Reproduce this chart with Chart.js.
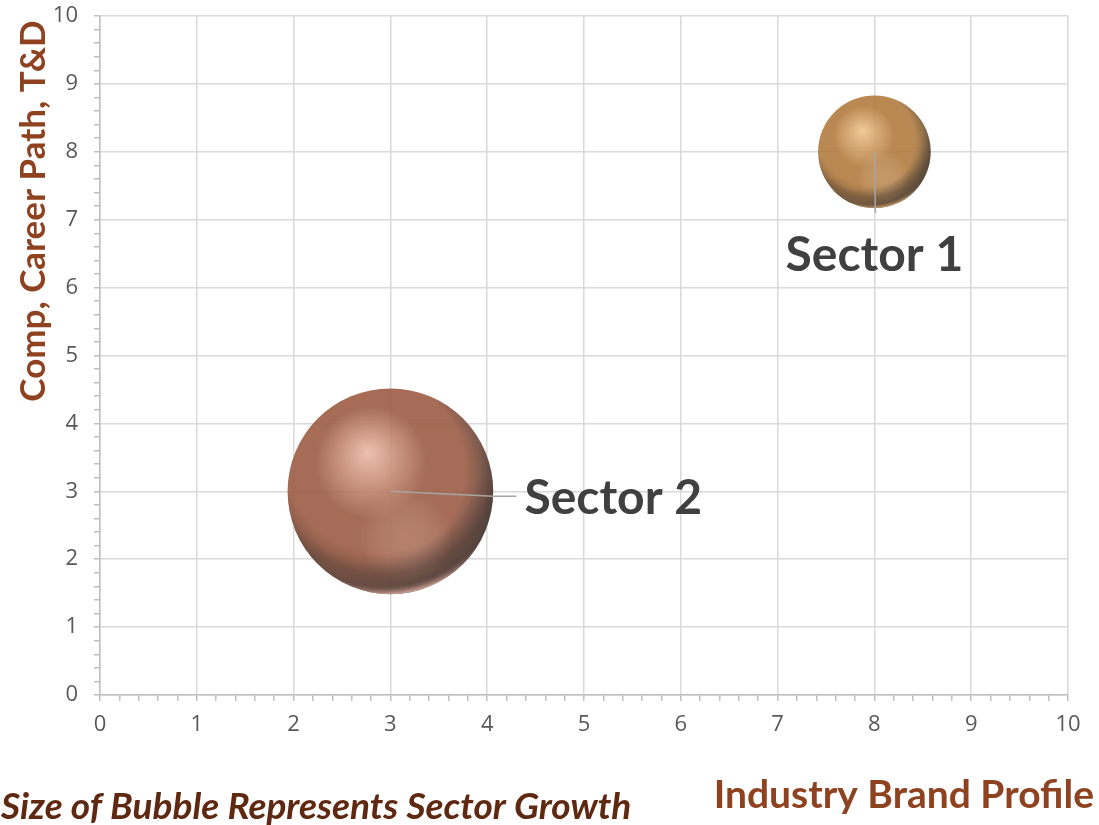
<!DOCTYPE html>
<html>
<head>
<meta charset="utf-8">
<script src="https://cdn.jsdelivr.net/npm/chart.js@4.4.1/dist/chart.umd.min.js"></script>
<style>
  html, body { margin: 0; padding: 0; background: #fff; }
  #wrap { position: relative; width: 1099px; height: 825px; }
</style>
</head>
<body>
<div id="wrap"><canvas id="bubbleChart" width="1099" height="825"></canvas></div>
<script>
const sectors = ["Sector 1", "Sector 2"];
const brandProfile = [8, 3];     // x
const compCareer = [8, 3];       // y
const sectorGrowth = [3, 10];    // bubble size (area)
const axisTicks = [0, 1, 2, 3, 4, 5, 6, 7, 8, 9, 10];

const yTitle = "Comp, Career Path, T&D";
const xTitle = "Industry Brand Profile";
const footNote = "Size of Bubble Represents Sector Growth";

// sphere shading per bubble: highlight, body, shadow, bottom rim
const shades = [
  { hi: "rgba(240,196,140,0.9)", mid: "rgba(178,124,64,0.9)", dark: "rgba(84,70,52,0.92)", rim: "rgba(205,160,112,0.85)", glow: "rgba(225,190,150,0.28)" },
  { hi: "rgba(236,186,166,0.9)", mid: "rgba(156,92,68,0.9)", dark: "rgba(76,60,55,0.92)", rim: "rgba(210,162,150,0.85)", glow: "rgba(220,175,160,0.28)" }
];

const maxGrowth = Math.max(...sectorGrowth);

function bubbleRadius(ctx) {
  const chart = ctx.chart;
  const area = chart.chartArea;
  const side = area ? Math.min(area.right - area.left, area.bottom - area.top) : chart.height * 0.82;
  return side * 0.152 * Math.sqrt(sectorGrowth[ctx.dataIndex] / maxGrowth);
}

function sphereFill(ctx) {
  const chart = ctx.chart;
  const i = ctx.dataIndex;
  if (!chart.chartArea || ctx.type !== "data") return shades[i || 0].mid;
  const cx = chart.scales.x.getPixelForValue(brandProfile[i]);
  const cy = chart.scales.y.getPixelForValue(compCareer[i]);
  const r = bubbleRadius(ctx);
  const s = shades[i];
  const g = chart.ctx.createRadialGradient(cx - r * 0.22, cy - r * 0.38, 0, cx - r * 0.15, cy - r * 0.15, r * 1.2);
  g.addColorStop(0, s.hi);
  g.addColorStop(0.45, s.mid);
  g.addColorStop(0.74, s.mid);
  g.addColorStop(1, s.dark);
  return g;
}

const isMajor = v => Math.abs(v - Math.round(v)) < 1e-6;

function minorTicks(scale) {
  const t = [];
  for (let i = 0; i <= (axisTicks.length - 1) * 5; i++) t.push({ value: i / 5 });
  scale.ticks = t;
}

// lower reflection, dark band and bright bottom rim on each sphere
const sphereGloss = {
  id: "sphereGloss",
  afterDatasetsDraw(chart) {
    const c = chart.ctx;
    chart.getDatasetMeta(0).data.forEach((el, i) => {
      const r = el.options.radius;
      const s = shades[i];
      c.save();
      c.beginPath();
      c.arc(el.x, el.y, r, 0, Math.PI * 2);
      c.clip();
      let gx = el.x + r * 0.15, gy = el.y + r * 0.45;
      let g = c.createRadialGradient(gx, gy, 0, gx, gy, r * 0.45);
      g.addColorStop(0, s.glow);
      g.addColorStop(1, "rgba(255,255,255,0)");
      c.fillStyle = g;
      c.fillRect(el.x - r, el.y - r, r * 2, r * 2);
      gx = el.x - r * 0.08; gy = el.y - r * 0.35;
      g = c.createRadialGradient(gx, gy, r * 0.95, gx, gy, r * 1.36);
      g.addColorStop(0, "rgba(50,35,30,0)");
      g.addColorStop(0.5, "rgba(50,35,30,0.28)");
      g.addColorStop(0.75, "rgba(50,35,30,0.22)");
      g.addColorStop(0.97, s.rim);
      g.addColorStop(1, s.rim);
      c.fillStyle = g;
      c.fillRect(el.x - r, el.y - r, r * 2, r * 2);
      c.restore();
    });
  }
};

// leader lines, data labels and the free-standing titles
const annotations = {
  id: "annotations",
  afterDraw(chart) {
    const c = chart.ctx;
    const pts = chart.getDatasetMeta(0).data;
    c.save();
    c.strokeStyle = "#a6a6a6";
    c.lineWidth = 1.5;
    c.fillStyle = "#404040";
    c.font = "bold 48px Lato";
    c.textBaseline = "alphabetic";

    // Sector 1: label below the bubble
    let p = pts[0];
    c.beginPath();
    c.moveTo(p.x, p.y);
    c.lineTo(p.x + 1, p.y + 61);
    c.stroke();
    c.textAlign = "center";
    c.fillText(sectors[0], p.x, p.y + 119);

    // Sector 2: label to the right
    p = pts[1];
    c.beginPath();
    c.moveTo(p.x, p.y);
    c.lineTo(p.x + 102, p.y + 5);
    c.lineTo(p.x + 126, p.y + 5);
    c.stroke();
    c.textAlign = "left";
    c.fillText(sectors[1], p.x + 134, p.y + 23);

    // axis titles
    c.fillStyle = "#8e4220";
    c.font = "bold 35px Lato";
    c.textBaseline = "middle";
    c.save();
    c.translate(34, 211);
    c.rotate(-Math.PI / 2);
    c.textAlign = "center";
    c.fillText(yTitle, 0, 0);
    c.restore();

    c.textAlign = "right";
    c.textBaseline = "alphabetic";
    c.font = "bold 39px Lato";
    c.fillText(xTitle, 1094, 808);

    c.fillStyle = "#5e2811";
    c.textAlign = "left";
    c.font = "italic bold 37px Lato";
    c.fillText(footNote, 1, 819);
    c.restore();
  }
};

const gridCommon = {
  color: ctx => (ctx.tick && isMajor(ctx.tick.value) ? "#d9d9d9" : "rgba(0,0,0,0)"),
  lineWidth: 1.5,
  tickColor: "#bfbfbf",
  tickLength: 6
};

const tickFont = { family: "'Open Sans'", size: 22 };

const chart = new Chart(document.getElementById("bubbleChart"), {
  type: "bubble",
  data: {
    datasets: [{
      label: "Sectors",
      data: sectors.map((s, i) => ({ x: brandProfile[i], y: compCareer[i] })),
      backgroundColor: sphereFill,
      borderWidth: 0,
      radius: bubbleRadius,
      hoverRadius: 0
    }]
  },
  options: {
    responsive: false,
    animation: false,
    layout: { autoPadding: false, padding: { top: 16, right: 31, left: 0, bottom: 0 } },
    plugins: { legend: { display: false }, tooltip: { enabled: false } },
    scales: {
      x: {
        type: "linear",
        min: 0,
        max: 10,
        afterBuildTicks: minorTicks,
        afterFit: s => { s.height = 130; },
        grid: gridCommon,
        border: { color: "#bfbfbf", width: 1.5 },
        ticks: {
          autoSkip: false,
          maxRotation: 0,
          padding: 11,
          color: "#595959",
          font: tickFont,
          callback: v => (isMajor(v) ? String(Math.round(v)) : "")
        }
      },
      y: {
        type: "linear",
        min: 0,
        max: 10,
        afterBuildTicks: minorTicks,
        afterFit: s => { s.width = 100; s.paddingTop = 0; s.paddingBottom = 0; },
        grid: gridCommon,
        border: { color: "#bfbfbf", width: 1.5 },
        ticks: {
          autoSkip: false,
          padding: 16,
          color: "#595959",
          font: tickFont,
          callback: v => (isMajor(v) ? String(Math.round(v)) : "")
        }
      }
    }
  },
  plugins: [sphereGloss, annotations]
});
chart.update();
</script>
</body>
</html>
